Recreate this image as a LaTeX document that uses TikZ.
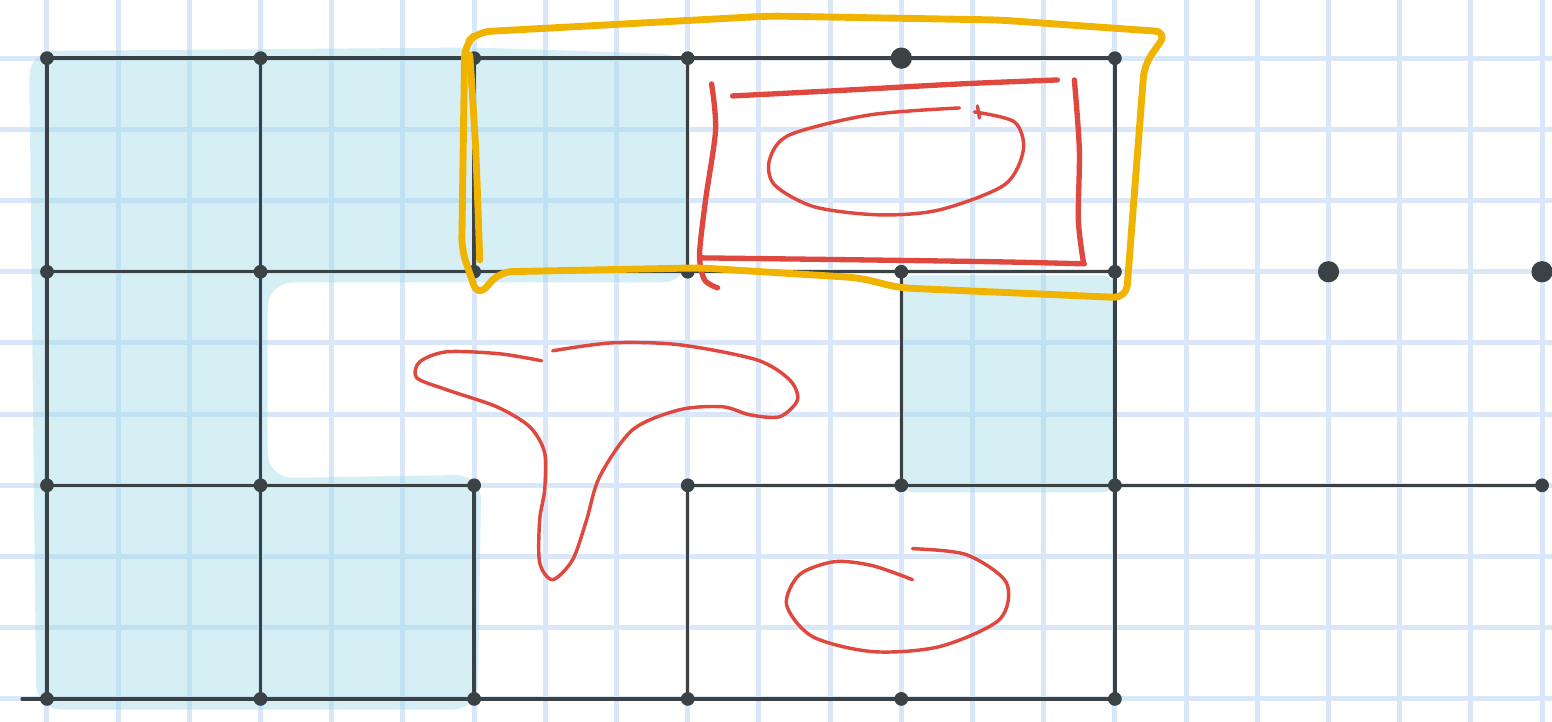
\documentclass[tikz,border=0pt]{standalone}
\usepackage{xcolor}
\usepackage{tikz}
\usetikzlibrary{calc}
\definecolor{gridblue}{RGB}{218,231,249}
\definecolor{washcol}{RGB}{152,217,230}
\definecolor{ink}{RGB}{58,66,70}
\definecolor{pen}{RGB}{222,72,62}
\definecolor{marker}{RGB}{240,180,0}

\begin{document}
\begin{tikzpicture}[x=0.8cm, y=0.8cm, line cap=round, line join=round,
    gridline/.style={draw=gridblue, line width=1.6pt},
    tint/.style={fill=washcol, fill opacity=0.4},
    wall/.style={draw=ink, line width=1.1pt},
    redpen/.style={draw=pen, line width=1.1pt},
    redbold/.style={draw=pen, line width=1.7pt},
    hilite/.style={draw=marker, line width=2.2pt},
    px/.style={shift={(-0.66,9.817)}, x=0.011236cm, y=-0.011236cm}]
    % paper
    \fill[white] (-0.66,-0.323) rectangle (21.14,9.817);
    \useasboundingbox (-0.66,-0.323) rectangle (21.14,9.817);
    \draw[gridline, step=1] (-0.66,-0.323) grid (21.14,9.817);
    % lattice points
    \foreach \i in {0,...,7}
        \foreach \j in {0,...,3}
            \coordinate (c\i\j) at (3*\i,3*\j);
    % shaded cells
    \fill[tint, rounded corners=8pt] (-0.25,9.1) -- (6,9.15) -- (9,9.05) -- (9,5.85)
        -- (3.1,5.85) -- (3.1,3.1) -- (6.1,3.15) -- (6.05,-0.15) -- (-0.15,-0.15) -- cycle;
    \fill[tint, rounded corners=4pt] ($(c41)+(0,-0.1)$) rectangle ($(c52)+(0,-0.05)$);
    % walls
    \draw[wall] (c03) -- (c53);
    \draw[wall] (c02) -- (c52);
    \draw[wall] (c01) -- (c21);
    \draw[wall] (c31) -- (c71);
    \draw[wall] ($(c00)+(-0.35,0)$) -- (c50);
    \draw[wall] (c00) -- (c03);
    \draw[wall] (c10) -- (c13);
    \draw[wall] (c22) -- (c23);
    \draw[wall] (c20) -- (c21);
    \draw[wall] (c32) -- (c33);
    \draw[wall] (c30) -- (c31);
    \draw[wall] (c41) -- (c42);
    \draw[wall] (c50) -- (c53);
    \foreach \v in {c03,c13,c23,c33,c53,c02,c12,c22,c32,c42,c52,
                    c01,c11,c21,c31,c41,c51,c71,c00,c10,c20,c30,c40,c50}
        \fill[ink] (\v) circle (2.2pt);
    \foreach \v in {c43,c62,c72}
        \fill[ink] (\v) circle (3.4pt);
    % sketch strokes
    \begin{scope}[px]
        \draw[redbold] plot[smooth] coordinates {(712,84) (716,130) (706,200) (700,255) (705,280) (718,288)};
        \draw[redbold] plot[smooth] coordinates {(733,96) (850,90) (960,84) (1058,80)};
        \draw[redbold] plot[smooth] coordinates {(1075,80) (1080,150) (1079,220) (1084,262)};
        \draw[redbold] plot[smooth] coordinates {(700,258) (860,260) (1000,262) (1085,264)};
        \draw[redpen] plot[smooth] coordinates {(975,112) (1015,122) (1024,150) (1005,185)
            (940,210) (880,215) (815,207) (775,185) (770,160) (790,135) (870,115) (960,108)};
        \draw[redpen] (978,106) -- (980,118);
        \draw[redpen] plot[smooth] coordinates {(542,361) (500,354) (447,352) (420,362) (417,378)
            (447,390) (497,407) (530,427) (545,453) (545,490) (540,520) (540,563) (553,580)
            (573,560) (587,520) (600,477) (633,430) (680,410) (723,407) (750,415) (780,417)
            (798,400) (790,380) (757,360) (680,345) (613,343) (553,351)};
        \draw[redpen] plot[smooth] coordinates {(913,580) (873,566) (835,562) (800,575) (787,605)
            (813,637) (873,652) (940,647) (1000,620) (1007,583) (967,555) (913,549)};
        \draw[hilite, rounded corners=4pt] (478,32) -- (770,16) -- (1000,20) -- (1168,32)
            -- (1145,65) -- (1127,298) -- (900,288) -- (860,278) -- (700,268) -- (500,272)
            -- (478,297) -- (462,250) -- (465,45) -- cycle;
        \draw[hilite] plot[smooth] coordinates {(470,55) (476,150) (480,260)};
    \end{scope}
\end{tikzpicture}
\end{document}
